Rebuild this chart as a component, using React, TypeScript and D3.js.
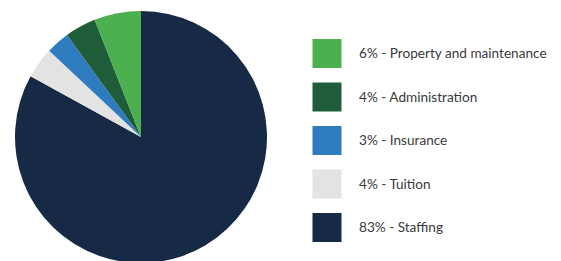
import React from "react";
import * as d3 from "d3";

const categories = ["Staffing", "Tuition", "Insurance", "Administration", "Property and maintenance"];
const values = [83, 4, 3, 4, 6];
const colors = ["#172a45", "#e3e3e3", "#2f7bc0", "#1f5c3a", "#4caf50"];
const legendOrder = ["Property and maintenance", "Administration", "Insurance", "Tuition", "Staffing"];

export default function App() {
  const W = 561, H = 261;
  const cx = 141, cy = 137, r = 126;
  const data = categories.map((c, i) => ({ c, v: values[i], color: colors[i] }));
  const pie = d3.pie<any>().value((d) => d.v).sort(null);
  const arc = d3.arc<any>().innerRadius(0).outerRadius(r);
  const arcs = pie(data);
  const legendY = d3.scalePoint<string>().domain(legendOrder).range([39, 213]);
  return (
    <svg width={W} height={H} style={{ position: "absolute", left: 0, top: 0, background: "#fff" }}>
      <g transform={`translate(${cx},${cy})`}>
        {arcs.map((a, i) => (
          <path key={i} d={arc(a) || ""} fill={a.data.color} />
        ))}
      </g>
      {legendOrder.map((c) => {
        const i = categories.indexOf(c);
        const y = legendY(c)!;
        return (
          <g key={c}>
            <rect x={312.5} y={y} width={29} height={29} fill={colors[i]} />
            <text x={359} y={y + 19} fontFamily="Lato, 'Noto Sans', sans-serif" fontSize={13.6} fill="#3a3a3a">
              {`${values[i]}% - ${c}`}
            </text>
          </g>
        );
      })}
    </svg>
  );
}
